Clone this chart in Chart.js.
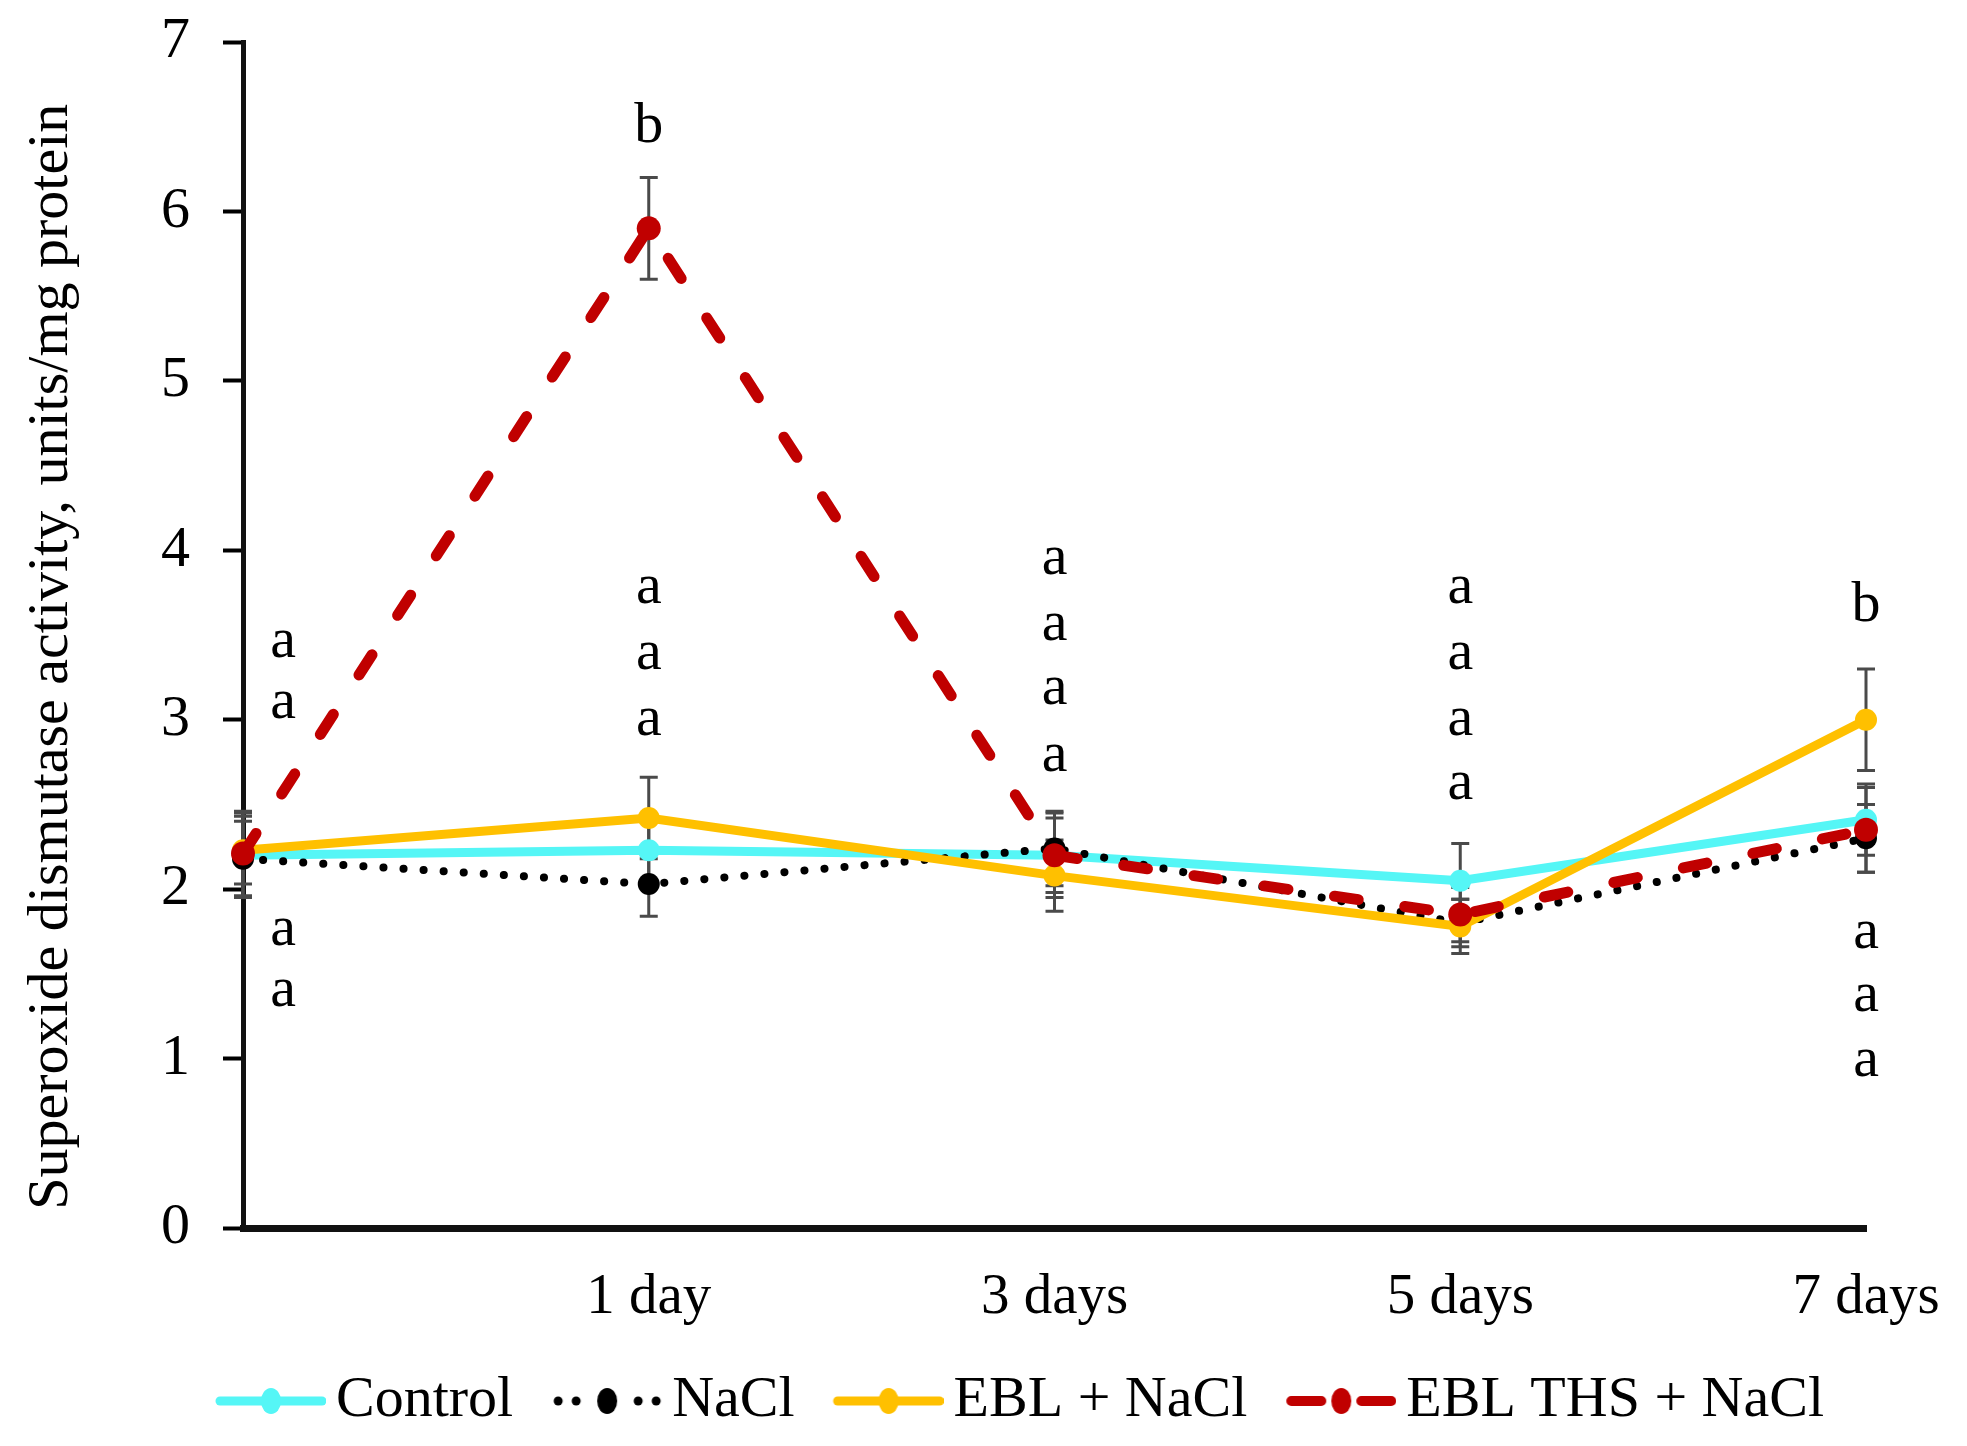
<!DOCTYPE html>
<html>
<head>
<meta charset="utf-8">
<script src="https://cdn.jsdelivr.net/npm/chart.js@4.4.0/dist/chart.umd.min.js"></script>
<style>
html,body{margin:0;padding:0;background:#fff;}
#wrap{width:1967px;height:1446px;position:relative;background:#fff;}
</style>
</head>
<body>
<div id="wrap"><canvas id="c"></canvas></div>
<script>
// ---- data ----
const categories = ['', '1 day', '3 days', '5 days', '7 days'];
const seriesNames = ['Control', 'NaCl', 'EBL + NaCl', 'EBL THS + NaCl'];
const controlValues = [2.20, 2.23, 2.20, 2.05, 2.41];
const naclValues    = [2.18, 2.03, 2.24, 1.80, 2.30];
const eblValues     = [2.23, 2.42, 2.08, 1.78, 3.00];
const thsValues     = [2.21, 5.90, 2.20, 1.85, 2.35];
const controlErr = [0.25, 0.20, 0.25, 0.22, 0.21];
const naclErr    = [0.22, 0.19, 0.22, 0.14, 0.20];
const eblErr     = [0.20, 0.24, 0.21, 0.16, 0.30];
const thsErr     = [0.25, 0.30, 0.22, 0.16, 0.25];
const yTickValues = [0, 1, 2, 3, 4, 5, 6, 7];
const letterCategory = [0, 0, 0, 0, 1, 1, 1, 1, 2, 2, 2, 2, 3, 3, 3, 3, 4, 4, 4, 4];
const letterValue    = [3.46, 3.10, 1.76, 1.40, 6.50, 3.78, 3.39, 3.00, 3.95, 3.56, 3.18, 2.79, 3.78, 3.39, 3.00, 2.62, 3.67, 1.74, 1.37, 0.99];
const letterText     = ['a','a','a','a','b','a','a','a','a','a','a','a','a','a','a','a','b','a','a','a'];
const yTitle = 'Superoxide dismutase activity, units/mg protein';

// ---- styles ----
const CYAN = '#55F6F6';
const ORANGE = '#FFC000';
const RED = '#C00000';
const BLACK = '#000000';
const FONT = 'Liberation Serif';
Chart.defaults.font.family = FONT;
Chart.defaults.color = '#000';

const errorSets = [controlErr, naclErr, eblErr, thsErr];

function makeIcon(kind, color) {
  const c = document.createElement('canvas');
  c.width = 145; c.height = 34;
  const g = c.getContext('2d');
  const y = 17, x0 = 35, x1 = 145, xc = 90;
  g.strokeStyle = color; g.fillStyle = color; g.lineCap = 'round';
  if (kind === 'solid') {
    g.lineWidth = 9; g.beginPath(); g.moveTo(x0 + 4, y); g.lineTo(x1 - 4, y); g.stroke();
  } else if (kind === 'dotted') {
    [41, 59, 121, 139].forEach(dx => { g.beginPath(); g.arc(dx, y, 4.5, 0, Math.PI * 2); g.fill(); });
  } else {
    g.lineWidth = 10; g.beginPath();
    g.moveTo(x0 + 5, y); g.lineTo(70, y); g.moveTo(110, y); g.lineTo(x1 - 5, y); g.stroke();
  }
  g.beginPath(); g.ellipse(xc, y, 10, 13, 0, 0, Math.PI * 2); g.fill();
  return c;
}
const legendIcons = [makeIcon('solid', CYAN), makeIcon('dotted', BLACK), makeIcon('solid', ORANGE), makeIcon('dashed', RED)];

const errorBarPlugin = {
  id: 'errorBars',
  beforeDatasetsDraw(chart) {
    const ctx = chart.ctx, ys = chart.scales.y;
    ctx.save();
    ctx.strokeStyle = '#4a4a4a';
    ctx.lineWidth = 3;
    errorSets.forEach((errs, di) => {
      const meta = chart.getDatasetMeta(di);
      const vals = chart.data.datasets[di].data;
      meta.data.forEach((pt, i) => {
        const yt = ys.getPixelForValue(vals[i] + errs[i]);
        const yb = ys.getPixelForValue(vals[i] - errs[i]);
        ctx.beginPath();
        ctx.moveTo(pt.x, yt); ctx.lineTo(pt.x, yb);
        ctx.moveTo(pt.x - 9, yt); ctx.lineTo(pt.x + 9, yt);
        ctx.moveTo(pt.x - 9, yb); ctx.lineTo(pt.x + 9, yb);
        ctx.stroke();
      });
    });
    ctx.restore();
  }
};

const letterPlugin = {
  id: 'letters',
  afterDatasetsDraw(chart) {
    const ctx = chart.ctx, xs = chart.scales.x, ys = chart.scales.y;
    ctx.save();
    ctx.font = '58px "' + FONT + '"';
    ctx.fillStyle = '#000';
    ctx.textAlign = 'center';
    ctx.textBaseline = 'middle';
    letterText.forEach((t, i) => {
      const c = letterCategory[i];
      const x = xs.getPixelForValue(c) + (c === 0 ? 40 : 0);
      ctx.fillText(t, x, ys.getPixelForValue(letterValue[i]));
    });
    ctx.restore();
  }
};

const common = { tension: 0, pointBorderWidth: 0, clip: false, fill: false };

new Chart(document.getElementById('c'), {
  type: 'line',
  data: {
    labels: categories,
    datasets: [
      Object.assign({ label: seriesNames[0], data: controlValues, borderColor: CYAN, backgroundColor: CYAN,
        pointBackgroundColor: CYAN, borderWidth: 9, pointRadius: 11, order: 4 }, common),
      Object.assign({ label: seriesNames[1], data: naclValues, borderColor: BLACK, backgroundColor: BLACK,
        pointBackgroundColor: BLACK, borderWidth: 8, borderDash: [0.1, 20], borderCapStyle: 'round', pointRadius: 11, order: 3 }, common),
      Object.assign({ label: seriesNames[2], data: eblValues, borderColor: ORANGE, backgroundColor: ORANGE,
        pointBackgroundColor: ORANGE, borderWidth: 9, pointRadius: 11, order: 2 }, common),
      Object.assign({ label: seriesNames[3], data: thsValues, borderColor: RED, backgroundColor: RED,
        pointBackgroundColor: RED, borderWidth: 11, borderDash: [24, 47], borderCapStyle: 'round', pointRadius: 12, order: 1 }, common)
    ]
  },
  options: {
    responsive: true,
    maintainAspectRatio: false,
    animation: false,
    layout: { padding: { left: 158, right: 101, top: 42, bottom: 6 } },
    plugins: {
      tooltip: { enabled: false },
      legend: {
        position: 'bottom',
        labels: {
          usePointStyle: true,
          pointStyleWidth: 107,
          padding: 23,
          color: '#000',
          font: { size: 58, family: FONT },
          generateLabels(chart) {
            return chart.data.datasets.map((ds, i) => ({
              text: ds.label, pointStyle: legendIcons[i], fillStyle: ds.borderColor,
              strokeStyle: ds.borderColor, lineWidth: 0, hidden: false, datasetIndex: i, fontColor: '#000'
            }));
          }
        }
      }
    },
    scales: {
      x: {
        type: 'category',
        offset: false,
        grid: { display: false, drawTicks: false },
        border: { display: true, width: 7, color: '#111' },
        ticks: { font: { size: 57 }, color: '#000', padding: 36, maxRotation: 0, autoSkip: false },
        afterFit(s) { s.height = 121; s.paddingLeft = 0; s.paddingRight = 0; }
      },
      y: {
        min: 0, max: 7,
        afterBuildTicks(s) { s.ticks = yTickValues.map(v => ({ value: v })); },
        ticks: { font: { size: 58 }, color: '#000', padding: 33 },
        grid: { drawOnChartArea: false, drawTicks: true, tickLength: 20, tickWidth: 4, tickColor: '#000' },
        border: { display: true, width: 5, color: '#111' },
        title: { display: true, text: yTitle + '   ', font: { size: 58 }, color: '#000', padding: { top: -141, bottom: 0 } },
        afterFit(s) { s.width = 243 - 158; s.paddingTop = 0; s.paddingBottom = 0; }
      }
    }
  },
  plugins: [errorBarPlugin, letterPlugin]
});
</script>
</body>
</html>
